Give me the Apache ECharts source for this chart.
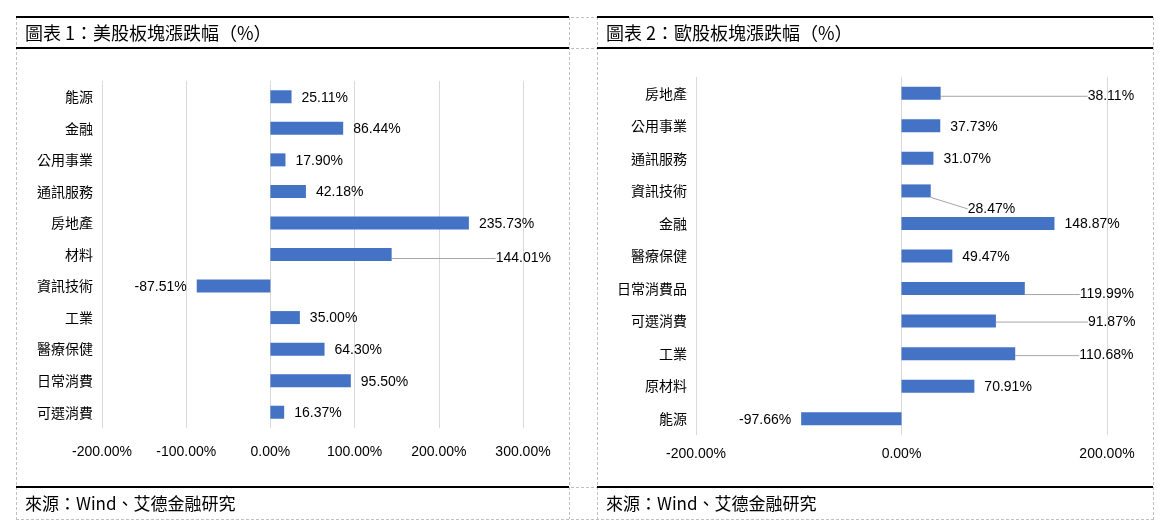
<!DOCTYPE html>
<html>
<head>
<meta charset="utf-8">
<script src="https://cdn.jsdelivr.net/npm/echarts@6/dist/echarts.min.js"></script>
<style>
  html, body { margin: 0; padding: 0; background: #fff; }
  #main { width: 1169px; height: 531px; }
</style>
</head>
<body>
<div id="main"></div>
<script>
// 美股板塊
var usCategories = ['能源', '金融', '公用事業', '通訊服務', '房地產', '材料', '資訊技術', '工業', '醫療保健', '日常消費', '可選消費'];
var usValues = [25.11, 86.44, 17.90, 42.18, 235.73, 144.01, -87.51, 35.00, 64.30, 95.50, 16.37];
// 歐股板塊
var euCategories = ['房地產', '公用事業', '通訊服務', '資訊技術', '金融', '醫療保健', '日常消費品', '可選消費', '工業', '原材料', '能源'];
var euValues = [38.11, 37.73, 31.07, 28.47, 148.87, 49.47, 119.99, 91.87, 110.68, 70.91, -97.66];

var usTitle = '圖表 1：美股板塊漲跌幅（%）';
var euTitle = '圖表 2：歐股板塊漲跌幅（%）';
var source = '來源：Wind、艾德金融研究';

// labels pushed away from the bar (dx, dy), drawn with a guide line
var usLabelShift = { 5: [94, 3] };
var euLabelShift = { 0: [137, 2], 3: [27, 17], 6: [45, 5], 7: [82, 0], 8: [54, 1] };

var numFont = '"Liberation Sans", sans-serif';
var cjkFont = '"Noto Sans CJK TC", sans-serif';
var barColor = '#4472C4';

function pct(v) { return v.toFixed(2) + '%'; }

function barData(values, shift) {
    return values.map(function (v, i) {
        return {
            value: v,
            label: { position: v < 0 ? 'left' : 'right' },
            labelLine: { show: !!shift[i] }
        };
    });
}

function makeSeries(idx, values, shift) {
    return {
        type: 'bar',
        xAxisIndex: idx,
        yAxisIndex: idx,
        barWidth: 13,
        itemStyle: { color: barColor },
        label: {
            show: true,
            distance: 10,
            color: '#000',
            fontFamily: numFont,
            fontSize: 14,
            formatter: function (p) { return pct(p.value); }
        },
        labelLine: { show: false, lineStyle: { color: '#a6a6a6', width: 1 } },
        labelLayout: function (p) {
            var s = shift[p.dataIndex];
            return s ? { dx: s[0], dy: s[1] + 1 } : { dy: 1 };
        },
        data: barData(values, shift)
    };
}

function valueAxis(idx, min, max, interval, margin) {
    return {
        type: 'value',
        gridIndex: idx,
        min: min, max: max, interval: interval,
        axisLine: { show: false },
        axisTick: { show: false },
        splitLine: { lineStyle: { color: '#d9d9d9', width: 1 } },
        axisLabel: {
            margin: margin,
            color: '#000',
            fontFamily: numFont,
            fontSize: 14,
            formatter: function (v) { return pct(v); }
        }
    };
}

function catAxis(idx, cats) {
    return {
        type: 'category',
        gridIndex: idx,
        inverse: true,
        data: cats,
        axisLine: { show: false },
        axisTick: { show: false },
        axisLabel: { margin: 9, color: '#000', fontFamily: cjkFont, fontSize: 14 }
    };
}

// table frame (dashed cells + solid rules) like the report layout
var dash = { stroke: '#bfbfbf', lineWidth: 1, lineDash: [3, 2] };
var solid = { stroke: '#000', lineWidth: 2 };
var frame = [];
[16.5, 569.5, 597.5, 1153.5].forEach(function (x) {
    frame.push({ type: 'line', shape: { x1: x, y1: 17, x2: x, y2: 519 }, style: dash, silent: true });
});
[17.5, 48.5, 487.5, 519.5].forEach(function (y) {
    frame.push({ type: 'line', shape: { x1: 16, y1: y, x2: 1154, y2: y }, style: dash, silent: true });
});
[[16, 569], [597, 1153]].forEach(function (c) {
    [17, 48, 487].forEach(function (y) {
        frame.push({ type: 'line', shape: { x1: c[0], y1: y, x2: c[1], y2: y }, style: solid, silent: true });
    });
});
[[25, usTitle], [606, euTitle]].forEach(function (t) {
    frame.push({ type: 'text', left: t[0], top: 24, style: { text: t[1], fill: '#000', font: '18px ' + cjkFont } });
    frame.push({ type: 'text', left: t[0], top: 495, style: { text: source, fill: '#000', font: '17px ' + cjkFont } });
});

var chart = echarts.init(document.getElementById('main'));
chart.setOption({
    animation: false,
    backgroundColor: '#fff',
    grid: [
        { left: 102, width: 421, top: 81, height: 347 },
        { left: 696, width: 411, top: 77, height: 358 }
    ],
    xAxis: [valueAxis(0, -200, 300, 100, 17), valueAxis(1, -200, 200, 200, 12)],
    yAxis: [catAxis(0, usCategories), catAxis(1, euCategories)],
    series: [makeSeries(0, usValues, usLabelShift), makeSeries(1, euValues, euLabelShift)],
    graphic: frame
});
</script>
</body>
</html>
